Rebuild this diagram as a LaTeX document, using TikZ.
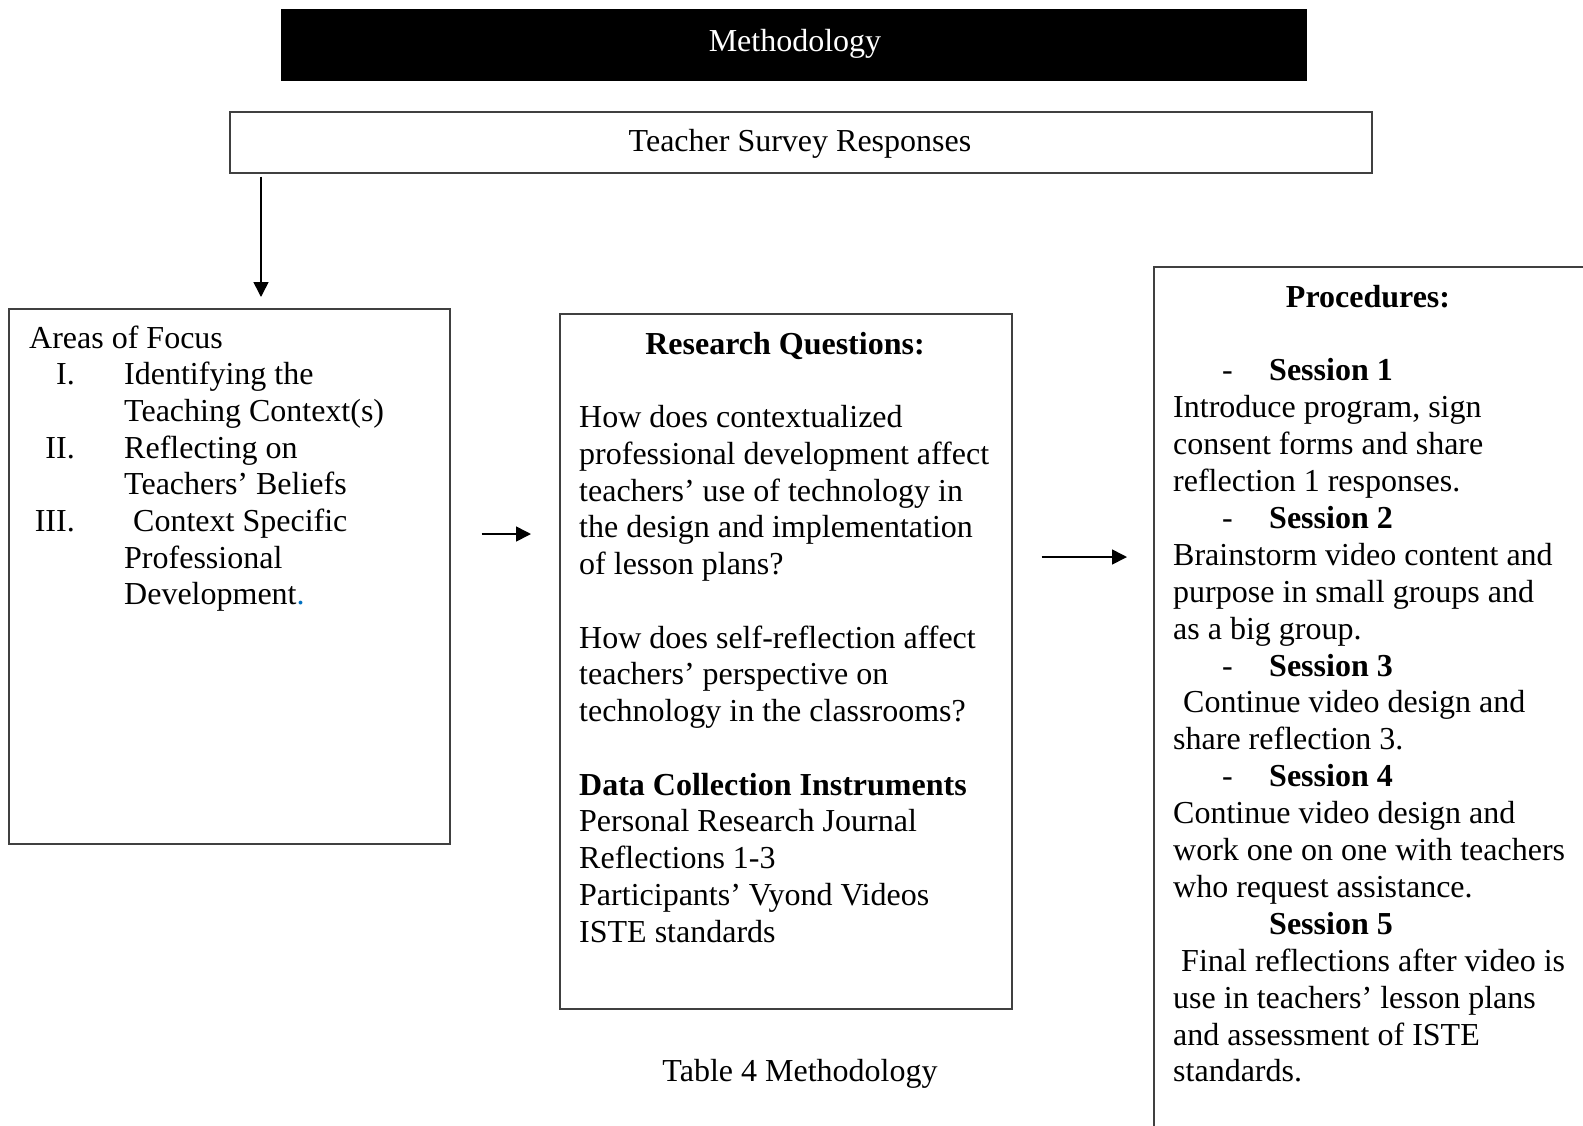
\documentclass[tikz,border=0pt]{standalone}
\usepackage{fontspec}
\setmainfont{Liberation Serif}
\usetikzlibrary{arrows.meta}
\definecolor{dotblue}{RGB}{0,112,192}
\tikzset{
  txt/.style={inner sep=0pt, anchor=base west, font=\fontsize{32}{36.8}\selectfont},
  txtc/.style={inner sep=0pt, anchor=base, font=\fontsize{32}{36.8}\selectfont},
  txtr/.style={inner sep=0pt, anchor=base east, font=\fontsize{32}{36.8}\selectfont},
  bold/.style={font=\fontsize{32}{36.8}\selectfont\bfseries},
  frame/.style={draw=black!75, line width=1.6pt, fill=white, inner sep=0pt, anchor=north west},
  arr/.style={draw=black, line width=1.6pt, -{Triangle[length=15pt,width=15pt]}},
}
\begin{document}
\begin{tikzpicture}[x=1pt,y=-1pt]
\useasboundingbox (0,0) rectangle (1583,1125);
\fill[white] (0,0) rectangle (1583,1125);

% title bar
\node[fill=black, inner sep=0pt, anchor=north west, minimum width=1026pt, minimum height=72pt] (meth) at (281,9) {};
\node[txtc, text=white] (methtxt) at (795,51) {Methodology};

% teacher survey box
\node[frame, minimum width=1142pt, minimum height=61pt] (tsr) at (229,111) {};
\node[txtc] (tsrtxt) at (800,151) {Teacher Survey Responses};

% boxes
\node[frame, minimum width=441pt, minimum height=535pt] (aof) at (8,308) {};
\node[frame, minimum width=452pt, minimum height=695pt] (rq) at (559,313) {};
\begin{scope}
\clip (0,0) rectangle (1583,1125);
\node[frame, minimum width=445pt, minimum height=880pt] (proc) at (1153,266) {};
\end{scope}

% connectors
\coordinate (xd) at (261,0);
\coordinate (y1) at (0,534);
\coordinate (y2) at (0,557);
\draw[arr, shorten <=3pt, shorten >=11pt] (tsr.south -| xd) -- (aof.north -| xd);
\draw[arr, shorten <=31pt, shorten >=28pt] (aof.east |- y1) -- (rq.west |- y1);
\draw[arr, shorten <=29pt, shorten >=26pt] (rq.east |- y2) -- (proc.west |- y2);

% left box text
\def\ly#1{\fpeval{348+#1*36.7}}
\node[txt] (l0) at (29,\ly{0}) {Areas of Focus};
\node[txtr] (n1) at (75,\ly{1}) {I.};
\node[txt] (l1) at (124,\ly{1}) {Identifying the};
\node[txt] (l2) at (124,\ly{2}) {Teaching Context(s)};
\node[txtr] (n2) at (75,\ly{3}) {II.};
\node[txt] (l3) at (124,\ly{3}) {Reflecting on};
\node[txt] (l4) at (124,\ly{4}) {Teachers’ Beliefs};
\node[txtr] (n3) at (75,\ly{5}) {III.};
\node[txt] (l5) at (133,\ly{5}) {Context Specific};
\node[txt] (l6) at (124,\ly{6}) {Professional};
\node[txt] (l7) at (124,\ly{7}) {Development\textcolor{dotblue}{.}};

% middle box text
\def\my#1{\fpeval{354+#1*36.75}}
\node[txtc, bold] (m0) at (785,\my{0}) {Research Questions:};
\foreach \k/\t in {2/{How does contextualized},3/{professional development affect},4/{teachers’ use of technology in},5/{the design and implementation},6/{of lesson plans?},8/{How does self-reflection affect},9/{teachers’ perspective on},10/{technology in the classrooms?},13/{Personal Research Journal},14/{Reflections 1-3},15/{Participants’ Vyond Videos},16/{ISTE standards}}
  \node[txt] (m\k) at (579,\my{\k}) {\t};
\node[txt, bold] (m12) at (579,\my{12}) {Data Collection Instruments};

% right box text
\def\ry#1{\fpeval{307+#1*36.9}}
\node[txtc, bold] (r0) at (1368,\ry{0}) {Procedures:};
\foreach \k/\n in {2/1,6/2,10/3,13/4}{
  \node[txt] (d\n) at (1222,\ry{\k}) {-};
  \node[txt, bold] (s\n) at (1269,\ry{\k}) {Session \n};
}
\node[txt, bold] (s5) at (1269,\ry{17}) {Session 5};
\foreach \k/\x/\t in {3/1173/{Introduce program, sign},4/1173/{consent forms and share},5/1173/{reflection 1 responses.},7/1173/{Brainstorm video content and},8/1173/{purpose in small groups and},9/1173/{as a big group.},11/1183/{Continue video design and},12/1173/{share reflection 3.},14/1173/{Continue video design and},15/1173/{work one on one with teachers},16/1173/{who request assistance.},18/1181/{Final reflections after video is},19/1173/{use in teachers’ lesson plans},20/1173/{and assessment of ISTE},21/1173/{standards.}}
  \node[txt] (r\k) at (\x,\ry{\k}) {\t};

% caption
\node[txtc] (cap) at (800,1081) {Table 4 Methodology};
\end{tikzpicture}
\end{document}
